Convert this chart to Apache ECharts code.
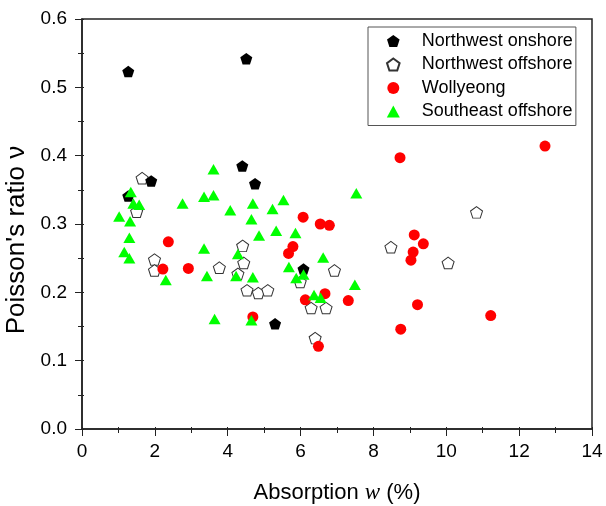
<!DOCTYPE html>
<html>
<head>
<meta charset="utf-8">
<script src="https://cdn.jsdelivr.net/npm/echarts@6/dist/echarts.min.js"></script>
<style>
  html, body { margin: 0; padding: 0; background: #fff; }
  #chart { width: 606px; height: 506px; }
</style>
</head>
<body>
<div id="chart"></div>
<script>
// [absorption w (%), Poisson's ratio]
const northwestOnshore = [
  [1.27, 0.523], [4.51, 0.542], [4.40, 0.385], [4.75, 0.359],
  [1.90, 0.363], [1.27, 0.341], [6.08, 0.234], [5.30, 0.154]
]
const northwestOffshore = [
  [1.65, 0.367], [1.50, 0.318], [1.99, 0.248], [1.99, 0.232], [3.77, 0.236],
  [4.41, 0.268], [4.44, 0.243], [4.28, 0.227], [4.53, 0.203], [4.84, 0.199],
  [5.10, 0.203], [5.99, 0.215], [6.93, 0.232], [6.29, 0.177], [6.70, 0.177],
  [6.40, 0.133], [8.48, 0.266], [10.83, 0.317], [10.05, 0.243]
]
const wollyeong = [
  [2.37, 0.274], [2.22, 0.234], [2.92, 0.235], [6.07, 0.310], [6.54, 0.300],
  [6.79, 0.298], [5.79, 0.267], [5.67, 0.257], [6.13, 0.189], [6.67, 0.198],
  [7.31, 0.188], [4.69, 0.164], [6.49, 0.121], [8.73, 0.397], [9.12, 0.284],
  [9.37, 0.271], [9.09, 0.259], [9.03, 0.247], [9.21, 0.182], [8.75, 0.146],
  [12.71, 0.414], [11.22, 0.166]
]
const southeastOffshore = [
  [3.61, 0.380], [1.34, 0.347], [3.35, 0.340], [3.61, 0.342], [2.76, 0.330],
  [1.41, 0.330], [1.57, 0.328], [1.02, 0.311], [1.32, 0.304], [4.07, 0.320],
  [1.30, 0.280], [1.16, 0.259], [1.30, 0.250], [3.35, 0.264], [2.30, 0.218],
  [3.43, 0.224], [4.23, 0.224], [4.28, 0.256], [3.64, 0.161], [4.69, 0.330],
  [5.53, 0.335], [5.23, 0.322], [4.65, 0.307], [7.53, 0.345], [4.86, 0.283],
  [5.33, 0.290], [5.86, 0.287], [6.62, 0.251], [5.68, 0.237], [4.69, 0.222],
  [5.88, 0.221], [6.08, 0.226], [6.37, 0.196], [6.55, 0.192], [7.49, 0.211],
  [4.65, 0.159]
]
const seriesNames = ['Northwest onshore', 'Northwest offshore', 'Wollyeong', 'Southeast offshore']

const pentagon = 'path://M0,-1L0.951,-0.309L0.588,0.809L-0.588,0.809L-0.951,-0.309Z'
const fontFamily = '"Liberation Sans", Arial, sans-serif'
const axisColor = '#222'

const chart = echarts.init(document.getElementById('chart'))
chart.setOption({
  backgroundColor: '#fff',
  animation: false,
  textStyle: { fontFamily: fontFamily },
  grid: {
    left: 82,
    right: 14,
    top: 19,
    bottom: 77,
    outerBoundsMode: 'none',
    containLabel: false,
    show: true,
    borderColor: axisColor,
    borderWidth: 1.5
  },
  legend: {
    data: seriesNames,
    orient: 'vertical',
    left: 368,
    top: 27,
    padding: [5, 3, 5, 18],
    itemWidth: 13,
    itemHeight: 12,
    itemGap: 5.5,
    borderColor: '#555',
    borderWidth: 1,
    textStyle: { fontSize: 18, color: '#000', fontFamily: fontFamily, lineHeight: 18, padding: [0, 0, 0, 17] }
  },
  xAxis: [
    {
      type: 'value',
      min: 0,
      max: 14,
      interval: 2,
      name: '{t|Absorption }{i|w}{t| (%)}',
      nameLocation: 'middle',
      nameGap: 52,
      nameTextStyle: {
        rich: {
          t: { fontSize: 22, color: '#000', fontFamily: fontFamily },
          i: { fontSize: 23, color: '#000', fontFamily: '"Liberation Serif", serif', fontStyle: 'italic' }
        }
      },
      axisLine: { lineStyle: { color: axisColor, width: 1.5 } },
      axisTick: { inside: false, length: 7, lineStyle: { color: axisColor } },
      minorTick: { show: true, splitNumber: 2, length: 4, lineStyle: { color: axisColor } },
      axisLabel: { fontSize: 19, color: '#000', margin: 13 },
      splitLine: { show: false }
    },
    {
      type: 'value',
      position: 'bottom',
      min: 0,
      max: 14,
      interval: 2,
      axisLine: { show: false },
      axisTick: { inside: true, length: 2, lineStyle: { color: axisColor } },
      minorTick: { show: true, splitNumber: 2, length: 2, lineStyle: { color: axisColor } },
      axisLabel: { show: false },
      splitLine: { show: false }
    }
  ],
  yAxis: [
    {
      type: 'value',
      min: 0,
      max: 0.6,
      interval: 0.1,
      name: "Poisson's ratio ν",
      nameLocation: 'middle',
      nameGap: 47,
      nameTextStyle: { fontSize: 26, color: '#000', padding: [0, 32, 0, 0] },
      axisLine: { lineStyle: { color: axisColor, width: 1.5 } },
      axisTick: { inside: false, length: 7, lineStyle: { color: axisColor } },
      minorTick: { show: true, splitNumber: 2, length: 4, lineStyle: { color: axisColor } },
      axisLabel: {
        fontSize: 19,
        color: '#000',
        margin: 15,
        formatter: v => v.toFixed(1)
      },
      splitLine: { show: false }
    },
    {
      type: 'value',
      position: 'left',
      min: 0,
      max: 0.6,
      interval: 0.1,
      axisLine: { show: false },
      axisTick: { inside: true, length: 2, lineStyle: { color: axisColor } },
      minorTick: { show: true, splitNumber: 2, length: 2, lineStyle: { color: axisColor } },
      axisLabel: { show: false },
      splitLine: { show: false }
    }
  ],
  series: [
    {
      name: seriesNames[0],
      type: 'scatter',
      z: 3,
      symbol: pentagon,
      symbolSize: [12, 11.5],
      itemStyle: { color: '#000', opacity: 1 },
      data: northwestOnshore
    },
    {
      name: seriesNames[1],
      type: 'scatter',
      z: 2,
      symbol: pentagon,
      symbolSize: [12, 11.5],
      itemStyle: { color: '#fff', borderColor: '#333', borderWidth: 1, opacity: 1 },
      data: northwestOffshore
    },
    {
      name: seriesNames[2],
      type: 'scatter',
      z: 4,
      symbol: 'circle',
      symbolSize: 11,
      itemStyle: { color: '#ff0000', opacity: 1 },
      data: wollyeong
    },
    {
      name: seriesNames[3],
      type: 'scatter',
      z: 5,
      symbol: 'triangle',
      symbolSize: [12, 10.5],
      itemStyle: { color: '#00ff00', opacity: 1 },
      data: southeastOffshore
    }
  ]
})
</script>
</body>
</html>
